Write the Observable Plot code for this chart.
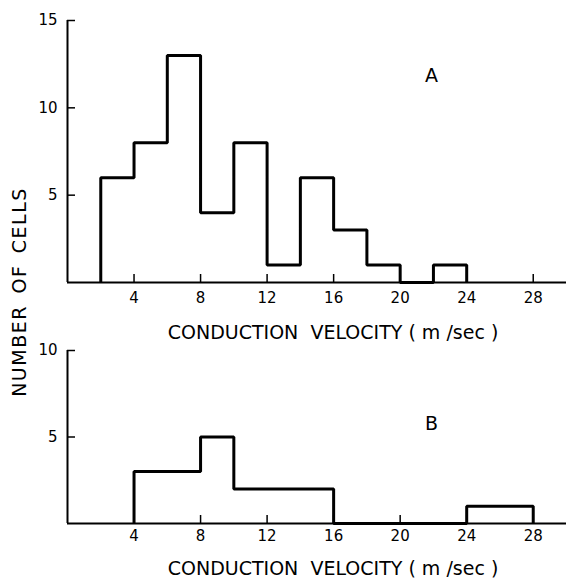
<!DOCTYPE html>
<html>
<head>
<meta charset="utf-8">
<script src="https://cdn.jsdelivr.net/npm/d3@7"></script>
<script src="https://cdn.jsdelivr.net/npm/@observablehq/plot@0.6"></script>
<style>
  html, body { margin: 0; padding: 0; background: white; }
  #wrap { position: relative; width: 566px; height: 580px; font-family: "DejaVu Sans", sans-serif; color: black; background: white; }
  #wrap > .panel { position: absolute; left: 0; z-index: 0; }
  #ylabel { position: absolute; left: 19px; top: 292px; transform: translate(-50%, -50%) rotate(-90deg); white-space: nowrap; font-size: 19px; letter-spacing: 1.5px; word-spacing: 4px; z-index: 2; }
</style>
</head>
<body>
<div id="wrap">
  <div id="ylabel">NUMBER OF CELLS</div>
</div>
<script>
// Panel A histogram: bin edges and counts
const edgesA = [2, 4, 6, 8, 10, 12, 14, 16, 18, 20, 22, 24];
const countsA = [6, 8, 13, 4, 8, 1, 6, 3, 1, 0, 1];
// Panel B histogram
const edgesB = [4, 8, 10, 16, 24, 28];
const countsB = [3, 5, 2, 0, 1];
// Ticks
const xTicks = [4, 8, 12, 16, 20, 24, 28];
const yTicksA = [5, 10, 15];
const yTicksB = [5, 10];
const xDomain = [0, 30];
const yDomainA = [0, 15];
const yDomainB = [0, 10];
const xTitle = "CONDUCTION\u00a0 VELOCITY ( m /sec )";

function outline(edges, counts) {
  const pts = [{x: edges[0], y: 0}];
  counts.forEach((c, i) => pts.push({x: edges[i], y: c}));
  pts.push({x: edges[edges.length - 1], y: 0});
  return pts;
}

function panel({edges, counts, yDomain, yTicks, letter, height, marginTop, marginBottom, tickPadding, letterDy, titleDy}) {
  const marginLeft = 67, marginRight = 0, width = 566;
  const innerW = width - marginLeft - marginRight;
  const innerH = height - marginTop - marginBottom;
  return Plot.plot({
    width, height, marginLeft, marginRight, marginTop, marginBottom,
    x: {domain: xDomain},
    y: {domain: yDomain},
    style: {fontFamily: "DejaVu Sans, sans-serif", fontSize: "15px", background: "transparent", color: "black"},
    marks: [
      Plot.ruleY([yDomain[0]], {stroke: "black", strokeWidth: 2}),
      Plot.ruleX([xDomain[0]], {y1: yDomain[0], y2: yDomain[1], stroke: "black", strokeWidth: 2}),
      Plot.tickX(xTicks, {x: d => d, insetTop: innerH - 8, stroke: "black", strokeWidth: 1.5}),
      Plot.tickY(yTicks, {y: d => d, insetRight: innerW - 8, stroke: "black", strokeWidth: 1.5}),
      Plot.axisX({ticks: xTicks, tickSize: 0, tickPadding, label: null, fontSize: 15}),
      Plot.axisY({ticks: yTicks, tickSize: 0, tickPadding: 10, label: null, fontSize: 15}),
      Plot.line(outline(edges, counts), {x: "x", y: "y", curve: "step-after", stroke: "black", strokeWidth: 3, strokeLinejoin: "miter", strokeLinecap: "butt"}),
      Plot.text([letter], {frameAnchor: "top-left", dx: 364, dy: letterDy, text: d => d, textAnchor: "middle", lineAnchor: "middle", fontSize: 19}),
      Plot.text([xTitle], {frameAnchor: "bottom", dx: 16, dy: titleDy, text: d => d, textAnchor: "middle", lineAnchor: "middle", fontSize: 19})
    ]
  });
}

const wrap = document.getElementById("wrap");
const a = panel({edges: edgesA, counts: countsA, yDomain: yDomainA, yTicks: yTicksA, letter: "A",
  height: 345, marginTop: 20, marginBottom: 63, tickPadding: 10, letterDy: 55, titleDy: 50});
a.classList.add("panel"); a.style.top = "0px";
const b = panel({edges: edgesB, counts: countsB, yDomain: yDomainB, yTicks: yTicksB, letter: "B",
  height: 245, marginTop: 15, marginBottom: 57, tickPadding: 7, letterDy: 73, titleDy: 45});
b.classList.add("panel"); b.style.top = "335px";
wrap.appendChild(a);
wrap.appendChild(b);
</script>
</body>
</html>
